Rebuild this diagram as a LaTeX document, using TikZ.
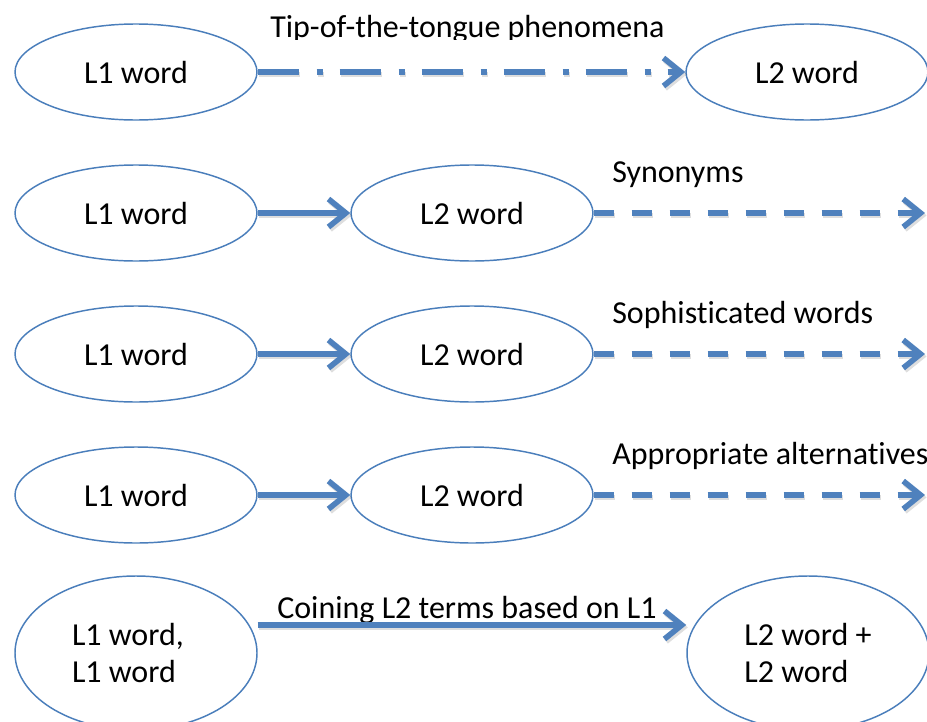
\documentclass[tikz,border=0pt]{standalone}
\usepackage{fontspec}
\setmainfont{Carlito}[RawFeature={-liga;-clig;-calt;-dlig;-rlig}]
\usetikzlibrary{arrows.meta,shapes.geometric}
\definecolor{accent}{HTML}{4F81BD}
\definecolor{rim}{HTML}{4A7EBB}
\begin{document}
\begin{tikzpicture}[x=0.75pt,y=-0.75pt,
  every node/.style={font=\fontsize{24}{28}\selectfont},
  word/.style={ellipse, draw=rim, line width=1.1pt, minimum width=181.5pt,
               minimum height=72pt, inner sep=0pt},
  bigword/.style={word, minimum height=115.5pt, align=flush left},
  caption/.style={anchor=base west, inner sep=0pt},
  link/.style={draw=accent, line width=4.2pt,
               -{Straight Barb[length=13pt,width=21pt]}},
  dashlink/.style={link, dash pattern=on 15pt off 13.5pt},
  dotlink/.style={link, dash pattern=on 30.75pt off 13.5pt on 4.5pt off 12.75pt},
  ghost/.style={draw=black, opacity=0.13,
                transform canvas={shift={(1.2pt,-1.8pt)}}}
]
\useasboundingbox (0,0) rectangle (927,721);
\fill[white] (0,0) rectangle (927,721);

% top row: tip-of-the-tongue
\node[word] (a1) at (136,72) {L1 word};
\node[word] (b1) at (807,72) {L2 word};
\begin{scope}
  \clip (0,0) rectangle (927,39);
  \node[caption] (t1) at (270,37) {Tip-of-the-tongue phenomena};
\end{scope}
\draw[dotlink, ghost] (a1) -- (b1);
\draw[dotlink] (a1) -- (b1);

% three rows: L1 -> L2 -> further L2 words
\foreach \r/\y/\txt in {2/213/Synonyms, 3/354/Sophisticated words, 4/495/Appropriate alternatives}{
  \node[word] (a\r) at (136,\y) {L1 word};
  \node[word] (b\r) at (472,\y) {L2 word};
  \coordinate (e\r) at (925,\y);
  \node[caption] (t\r) at (612,\y-31) {\txt};
  \draw[link, ghost] (a\r) -- (b\r);
  \draw[link] (a\r) -- (b\r);
  \draw[dashlink, ghost] (b\r) -- (e\r);
  \draw[dashlink] (b\r) -- (e\r);
}

% bottom row: coined compounds
\node[bigword, text width=96pt] (a5) at (136,653) {L1 word,\\L1 word};
\node[bigword] (b5) at (808,653) {L2 word +\\L2 word};
\node[caption] (t5) at (277,618) {Coining L2 terms based on L1};
\draw[link, ghost] ([yshift=21pt]a5.east) -- ([yshift=21pt]b5.west);
\draw[link] ([yshift=21pt]a5.east) -- ([yshift=21pt]b5.west);
\end{tikzpicture}
\end{document}
